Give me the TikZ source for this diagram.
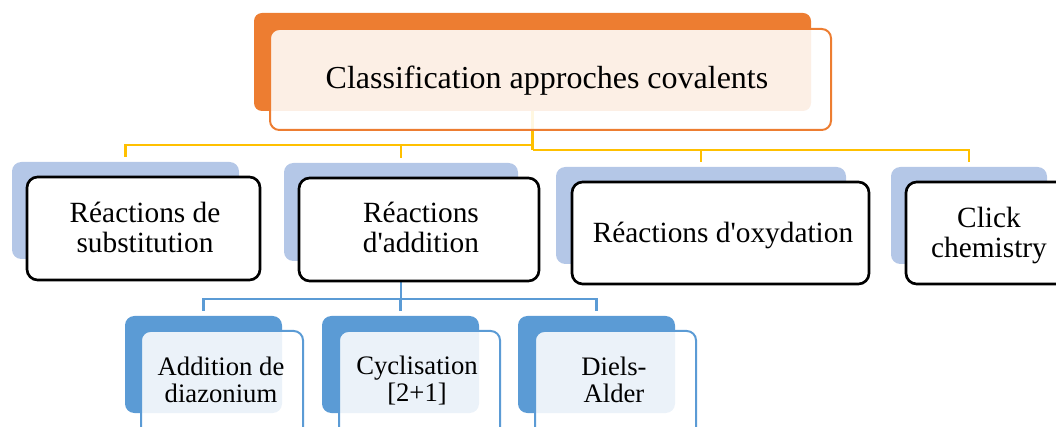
\documentclass[tikz,border=0pt]{standalone}
\usepackage{fontspec}
\setmainfont{Liberation Serif}
\usetikzlibrary{calc}
\definecolor{orangeT}{HTML}{ED7D31}
\definecolor{yellowC}{HTML}{FFC000}
\definecolor{blueC}{HTML}{5B9BD5}
\definecolor{lightB}{HTML}{B4C7E7}
\newcommand\mkbox[6]{\node[#1, minimum width={(#4-#2)*0.75pt}, minimum height={(#5-#3)*0.75pt}] (#6) at ({(#2+#4)/2},{(#3+#5)/2}) {};}
\begin{document}
\begin{tikzpicture}[x=0.75pt,y=-0.75pt,
  every node/.style={inner sep=0pt, outer sep=0pt},
  topback/.style={fill=orangeT, rounded corners=6pt},
  topfront/.style={draw=orangeT, line width=1.5pt, fill=white, fill opacity=0.88, rounded corners=7pt},
  lvback/.style={fill=lightB, rounded corners=7pt},
  lvfront/.style={draw=black, line width=2pt, fill=white, rounded corners=8pt},
  leafback/.style={fill=blueC, rounded corners=7pt},
  leaffront/.style={draw=blueC, line width=1.5pt, fill=white, fill opacity=0.88, rounded corners=7pt},
  yconn/.style={draw=yellowC, line width=2.2pt},
  bconn/.style={draw=blueC, line width=2.2pt},
  ttop/.style={font=\fontsize{24}{28}\selectfont, align=center},
  tlv/.style={font=\fontsize{22}{22.5}\selectfont, align=center},
  tleaf/.style={font=\fontsize{20}{20.25}\selectfont, align=center}]
\useasboundingbox (0,0) rectangle (1056,427);
% back boxes
\mkbox{topback}{254}{13}{811}{111}{topB}
\mkbox{lvback}{12}{162}{239}{259}{b1B}
\mkbox{lvback}{284}{163}{518}{261}{b2B}
\mkbox{lvback}{556}{167}{846}{264}{b3B}
\mkbox{lvback}{891}{167}{1047}{264}{b4B}
\mkbox{leafback}{125}{316}{282}{413}{cAB}
\mkbox{leafback}{322}{316}{479}{413}{cBB}
\mkbox{leafback}{518}{316}{675}{413}{cCB}
% connectors
\coordinate (jl) at (532.5,145);
\coordinate (jr) at (532.5,150);
\draw[yconn] (topB.south) -- (jr);
\draw[yconn] (jl) -| ($(b1B.north)+(0,-5)$);
\draw[yconn] (jl) -| ($(b2B.north)+(0,-5)$);
\draw[yconn] (jr) -| ($(b3B.north)+(0,-5)$);
\draw[yconn] (jr) -| ($(b4B.north)+(0,-5)$);
\coordinate (jb) at (b2B.south |- 0,299);
\draw[bconn] (b2B.south) -- (jb);
\draw[bconn] (jb) -| ($(cAB.north)+(0,-5)$);
\draw[bconn] (jb) -| ($(cBB.north)+(0,-5)$);
\draw[bconn] (jb) -| ($(cCB.north)+(0,-5)$);
% front boxes
\mkbox{topfront}{270}{29}{831}{130}{topF}
\mkbox{lvfront}{27}{177}{260}{280}{b1F}
\mkbox{lvfront}{299}{178}{539}{281}{b2F}
\mkbox{lvfront}{572}{182}{869}{284}{b3F}
\mkbox{lvfront}{906}{182}{1075}{284}{b4F}
\mkbox{leaffront}{141}{331}{303}{437}{cAF}
\mkbox{leaffront}{339}{331}{500}{437}{cBF}
\mkbox{leaffront}{535}{331}{696}{437}{cCF}
% texts
\node[ttop] (t0) at (547,81) {Classification approches covalents};
\node[tlv] (t1) at (145,227) {Réactions de\\substitution};
\node[tlv] (t2) at (421,227) {Réactions\\d\textquotesingle addition};
\node[tlv] (t3) at (723,235) {Réactions d\textquotesingle oxydation};
\node[tlv] (t4) at (989,235) {Click\\chemistry};
\node[tleaf] (t5) at (221,380) {Addition de\\diazonium};
\node[tleaf] (t6) at (417,381) {Cyclisation\\{[2+1]}};
\node[tleaf] (t7) at (614,380) {Diels-\\Alder};
\end{tikzpicture}
\end{document}
